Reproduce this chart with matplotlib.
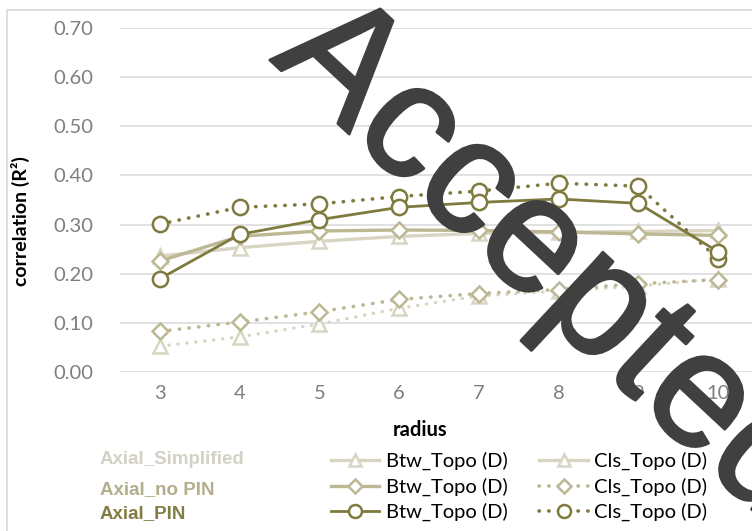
import matplotlib
matplotlib.use("Agg")
from matplotlib import pyplot as plt
from matplotlib.lines import Line2D
from matplotlib.patches import Rectangle
import matplotlib.patheffects as pe

radius = [3, 4, 5, 6, 7, 8, 9, 10]

# R^2 values
pin_btw = [0.190, 0.280, 0.310, 0.335, 0.345, 0.352, 0.343, 0.245]
pin_cls = [0.301, 0.335, 0.342, 0.357, 0.368, 0.384, 0.378, 0.230]
nopin_btw = [0.226, 0.276, 0.287, 0.289, 0.288, 0.285, 0.281, 0.278]
nopin_cls = [0.083, 0.102, 0.123, 0.148, 0.160, 0.168, 0.180, 0.188]
simp_btw = [0.236, 0.253, 0.266, 0.276, 0.282, 0.284, 0.286, 0.288]
simp_cls = [0.053, 0.072, 0.098, 0.130, 0.155, 0.165, 0.175, 0.190]

groups = ["Axial_Simplified", "Axial_no PIN", "Axial_PIN"]
group_colors = ["#d3d1c5", "#b3ae8c", "#827d45"]

c_pin = "#7f7a3d"
c_nopin = "#bdb894"
c_simp = "#d8d5c2"

plt.rcParams["font.family"] = ["Lato", "DejaVu Sans"]

fig = plt.figure(figsize=(7.52, 5.31), dpi=100)
ax = fig.add_axes([120 / 752, 1 - 372.3 / 531, 638 / 752, 344.7 / 531])

dots = (0, (0.1, 2.6))
kw = dict(markerfacecolor="white", markeredgewidth=1.8, dash_capstyle="round")

l_simp_cls, = ax.plot(radius, simp_cls, color=c_simp, lw=2.4, ls=dots, marker="^", ms=10, **kw)
l_nopin_cls, = ax.plot(radius, nopin_cls, color=c_nopin, lw=2.6, ls=dots, marker="D", ms=8.5, **kw)
l_simp_btw, = ax.plot(radius, simp_btw, color=c_simp, lw=2.4, marker="^", ms=10, **kw)
l_nopin_btw, = ax.plot(radius, nopin_btw, color=c_nopin, lw=2.4, marker="D", ms=8.5, **kw)
l_pin_cls, = ax.plot(radius, pin_cls, color=c_pin, lw=2.6, ls=dots, marker="o", ms=11, **kw)
l_pin_btw, = ax.plot(radius, pin_btw, color=c_pin, lw=2.0, marker="o", ms=11, **kw)

ax.set_xlim(2.5, 10.5)
ax.set_ylim(0, 0.7)
ax.set_yticks([i / 10 for i in range(8)])
ax.set_yticklabels(["%.2f" % (i / 10) for i in range(8)])
ax.set_xticks(radius)
ax.grid(axis="y", color="#d9d9d9", lw=1.1)
ax.set_axisbelow(True)
for s in ax.spines.values():
    s.set_visible(False)
ax.tick_params(length=0, labelsize=14.5, labelcolor="#7f7f7f")
ax.tick_params(axis="y", pad=19)
ax.tick_params(axis="x", pad=9)

fig.text(20 / 752, 1 - 221 / 531, "correlation (R\u00b2)", rotation=90, ha="center", va="center",
         fontsize=14, fontweight="bold", color="black")
fig.text(420 / 752, 1 - 430 / 531, "radius", ha="center", va="center",
         fontsize=14.5, fontweight="bold", color="black")

# chart area border
fig.patches.append(Rectangle((7 / 752, -0.1), 1.2, 1.1 - 10 / 531, transform=fig.transFigure,
                             fill=False, edgecolor="#d9d9d9", lw=1.2))

# legend: Cls of Axial_Simplified shows a plain line in the key
simp_cls_key = Line2D([], [], color=c_simp, lw=2.4, marker="^", ms=10,
                      markerfacecolor="white", markeredgewidth=1.8)
handles = [l_simp_btw, l_nopin_btw, l_pin_btw, simp_cls_key, l_nopin_cls, l_pin_cls]
labels = ["Btw_Topo (D)"] * 3 + ["Cls_Topo (D)"] * 3
fig.legend(handles, labels, ncol=2, loc="upper left", bbox_to_anchor=(313 / 752, 1 - 434 / 531),
           frameon=False, fontsize=14.5, handlelength=2.4, handletextpad=0.3,
           columnspacing=1.6, labelspacing=0.35, markerscale=0.85)

for i, (g, c) in enumerate(zip(groups, group_colors)):
    fig.text(100 / 752, 1 - [459, 490, 514][i] / 531, g, ha="left", va="center",
             fontsize=13.5, fontweight="bold", color=c, family="Liberation Sans")

# watermark
fig.text(548 / 752, 1 - 262 / 531, "Accepted", rotation=-43, rotation_mode="anchor",
         ha="center", va="center", fontsize=118, color="#404040",
         family="Liberation Sans", zorder=20,
         path_effects=[pe.withStroke(linewidth=2, foreground="#404040")])

fig.savefig("out.png", dpi=100)
